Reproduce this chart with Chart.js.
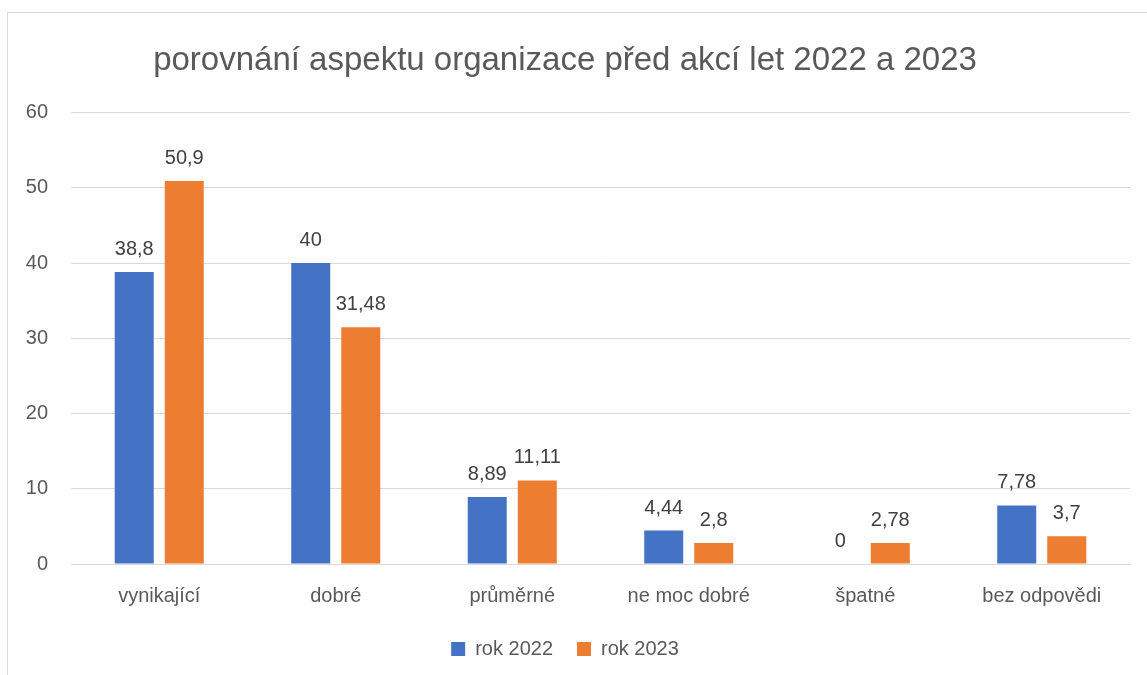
<!DOCTYPE html>
<html>
<head>
<meta charset="utf-8">
<script src="https://cdn.jsdelivr.net/npm/chart.js@4/dist/chart.umd.min.js"></script>
<style>
  html, body { margin: 0; padding: 0; background: #ffffff; }
  #wrap { position: relative; width: 1147px; height: 675px; overflow: hidden; }
  #frame { position: absolute; left: 7px; top: 12px; width: 1200px; height: 700px; border: 1px solid #D9D9D9; box-sizing: border-box; }
  canvas { position: absolute; left: 0; top: 0; }
</style>
</head>
<body>
<div id="wrap">
  <div id="frame"></div>
  <canvas id="c" width="1147" height="675"></canvas>
</div>
<script>
const titleText = "porovnání aspektu organizace před akcí let 2022 a 2023";
const categories = ["vynikající", "dobré", "průměrné", "ne moc dobré", "špatné", "bez odpovědi"];
const seriesNames = ["rok 2022", "rok 2023"];
const values2022 = [38.8, 40, 8.89, 4.44, 0, 7.78];
const values2023 = [50.9, 31.48, 11.11, 2.8, 2.78, 3.7];
const yTicks = [0, 10, 20, 30, 40, 50, 60];

const FONT = "'Liberation Sans', Arial, sans-serif";
const TEXT = "#595959";

const labelPlugin = {
  id: 'barLabels',
  afterDatasetsDraw(chart) {
    const ctx = chart.ctx;
    ctx.save();
    ctx.font = "20px " + FONT;
    ctx.fillStyle = "#404040";
    ctx.textAlign = "center";
    ctx.textBaseline = "alphabetic";
    chart.data.datasets.forEach((ds, i) => {
      const meta = chart.getDatasetMeta(i);
      meta.data.forEach((bar, j) => {
        const v = ds.data[j];
        ctx.fillText(String(v).replace('.', ','), bar.x, bar.y - 17);
      });
    });
    ctx.restore();
  }
};

new Chart(document.getElementById('c'), {
  type: 'bar',
  data: {
    labels: categories,
    datasets: [
      { label: seriesNames[0], data: values2022, backgroundColor: '#4472C4', categoryPercentage: 0.567, barPercentage: 0.78 },
      { label: seriesNames[1], data: values2023, backgroundColor: '#ED7D31', categoryPercentage: 0.567, barPercentage: 0.78 }
    ]
  },
  options: {
    responsive: false,
    animation: false,
    layout: { padding: { left: 0, right: 17, top: 22, bottom: 6 } },
    plugins: {
      title: {
        display: true, text: titleText, color: TEXT,
        font: { family: FONT, size: 33, weight: 'normal' },
        padding: { top: 19, bottom: 32 }
      },
      legend: {
        position: 'bottom',
        labels: {
          color: TEXT, font: { family: FONT, size: 20 },
          boxWidth: 14, boxHeight: 14, padding: 24
        }
      },
      tooltip: { enabled: false }
    },
    scales: {
      x: {
        grid: { display: false },
        border: { color: '#D9D9D9', width: 1 },
        ticks: { color: TEXT, font: { family: FONT, size: 20 }, padding: 12 },
        afterFit(s) { s.height = 51; }
      },
      y: {
        min: 0, max: 60,
        afterBuildTicks(s) { s.ticks = yTicks.map(v => ({ value: v })); },
        grid: { color: '#D9D9D9', drawTicks: false },
        border: { display: false },
        ticks: { color: TEXT, font: { family: FONT, size: 20 }, padding: 23 },
        afterFit(s) { s.width = 71; }
      }
    }
  },
  plugins: [labelPlugin]
});
</script>
</body>
</html>
